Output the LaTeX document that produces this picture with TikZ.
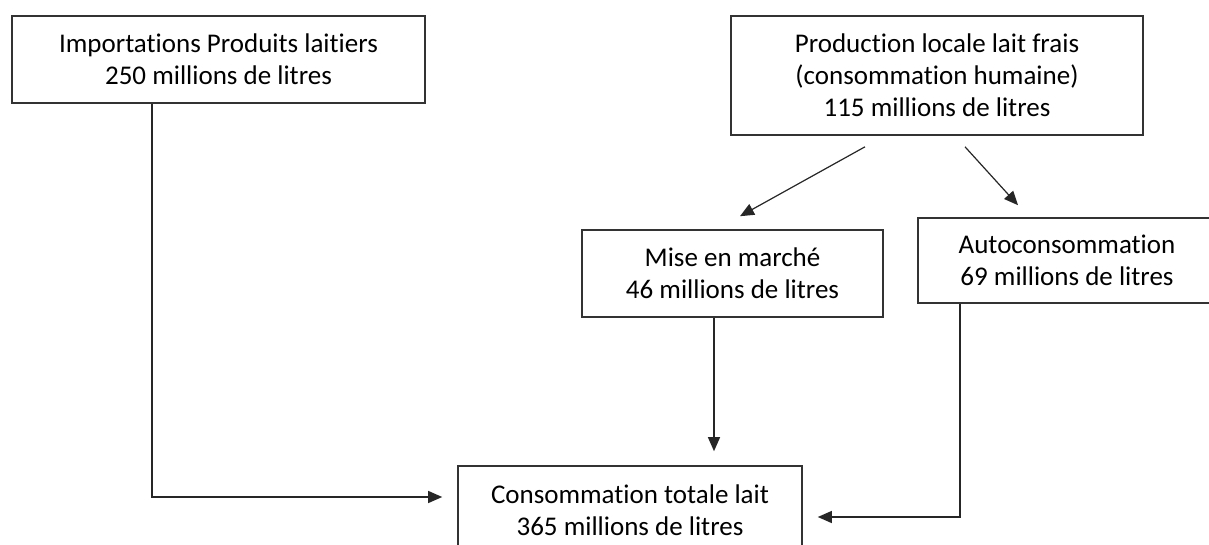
\documentclass[tikz,border=0pt]{standalone}
\usepackage{fontspec}
\setmainfont{Carlito}[Ligatures=CommonOff]
\usetikzlibrary{arrows.meta}
\tikzset{
    box/.style={draw=black!80, line width=1.6pt, align=center, inner sep=0pt,
        font=\fontsize{27}{32}\selectfont},
    flow/.style={->, draw=black!85, line width=1.2pt},
}

\begin{document}
\begin{tikzpicture}[x=1pt, y=-1pt, >={Triangle[length=14pt,width=12pt]}]

    \clip (0,0) rectangle (1209,545);
    \fill[white] (0,0) rectangle (1209,545);

    % Boxes
    \node[box, minimum width=413pt, minimum height=87pt] (imports) at (218.5,59.5) {Importations Produits laitiers\\250 millions de litres};
    \node[box, minimum width=412pt, minimum height=119pt] (local) at (937,75.5) {Production locale lait frais\\(consommation humaine)\\115 millions de litres};
    \node[box, minimum width=301pt, minimum height=87pt] (market) at (732.5,273.5) {Mise en marché\\46 millions de litres};
    \node[box, minimum width=298pt, minimum height=85pt] (selfuse) at (1067,260.5) {Autoconsommation\\69 millions de litres};
    \node[box, minimum width=344pt, minimum height=88pt] (total) at (630,510) {Consommation totale lait\\365 millions de litres};

    % Split of local production
    \draw[flow] ([shift={(-72pt,-11pt)}]local.south) -- ([shift={(7.5pt,13pt)}]market.north);
    \draw[flow] ([shift={(28pt,-11pt)}]local.south) -- ([shift={(-49pt,12pt)}]selfuse.north);

    % Into total consumption
    \draw[flow, shorten >=15pt] ([xshift=-66.5pt]imports.south) |- ([yshift=13pt]total.west);
    \draw[flow, shorten >=14pt] ([xshift=-18.5pt]market.south) -- ([xshift=-18.5pt]market.south |- total.north);
    \draw[flow, shorten >=15pt] ([xshift=-107pt]selfuse.south) |- ([yshift=-7pt]total.east);

\end{tikzpicture}
\end{document}
